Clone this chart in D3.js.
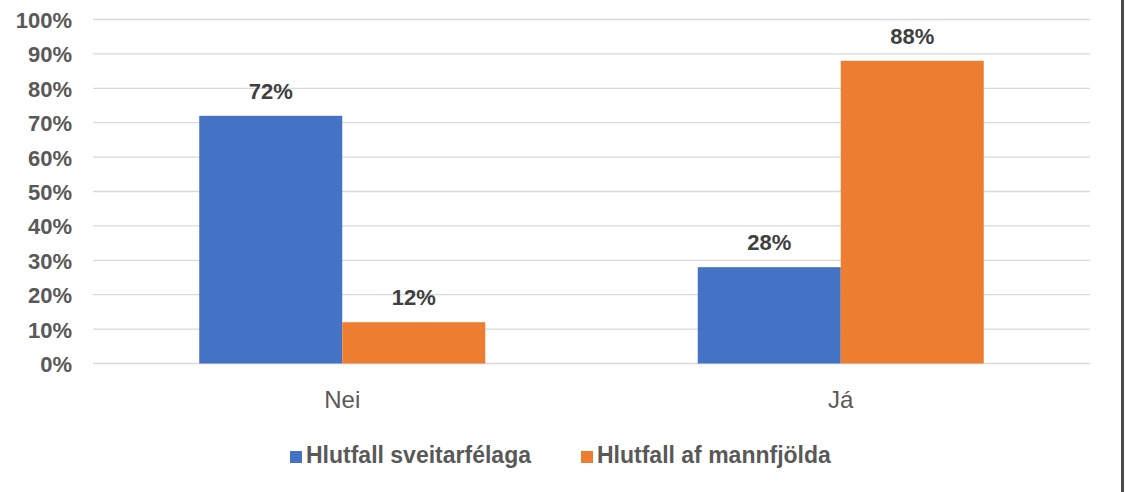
<!DOCTYPE html>
<html>
<head>
<meta charset="utf-8">
<script src="https://cdn.jsdelivr.net/npm/d3@7"></script>
<style>
  body { margin: 0; background: #fff; }
  svg { display: block; font-family: "Liberation Sans", Arial, sans-serif; }
</style>
</head>
<body>
<div id="chart"></div>
<script>
// data
var categories = ["Nei", "Já"];
var seriesNames = ["Hlutfall sveitarfélaga", "Hlutfall af mannfjölda"];
var sveitarfelaga = [0.72, 0.28];
var mannfjolda = [0.12, 0.88];
var yTicks = [0, 0.1, 0.2, 0.3, 0.4, 0.5, 0.6, 0.7, 0.8, 0.9, 1.0];
var colors = ["#4472C4", "#ED7D31"];

var width = 1125, height = 492;
var plotLeft = 93, plotRight = 1090, plotTop = 19.5, plotBottom = 363.5;

var svg = d3.select("#chart").append("svg")
    .attr("width", width)
    .attr("height", height);

var x0 = d3.scaleBand().domain(categories).range([plotLeft, plotRight]);
var gap = (x0.bandwidth() - 286) / 2;
var x1 = d3.scaleBand().domain(seriesNames).range([gap, x0.bandwidth() - gap]);
var y = d3.scaleLinear().domain([0, 1]).range([plotBottom, plotTop]);

// grid lines
svg.append("g").selectAll("line")
    .data(yTicks)
    .enter().append("line")
    .attr("x1", plotLeft).attr("x2", plotRight)
    .attr("y1", function(d) { return y(d); })
    .attr("y2", function(d) { return y(d); })
    .attr("stroke", "#d9d9d9")
    .attr("stroke-width", 1.3);

// y axis labels
var yAxis = d3.axisLeft(y).tickValues(yTicks).tickFormat(d3.format(".0%")).tickSize(0).tickPadding(0);
var yg = svg.append("g").attr("transform", "translate(72,0)").call(yAxis);
yg.select(".domain").remove();
yg.selectAll("text")
    .attr("fill", "#595959")
    .style("font-size", "22px")
    .style("font-weight", "bold")
    .attr("dy", "0.36em");

// x axis labels
var xAxis = d3.axisBottom(x0).tickSize(0).tickPadding(0);
var xg = svg.append("g").attr("transform", "translate(0," + plotBottom + ")").call(xAxis);
xg.select(".domain").remove();
xg.selectAll("text")
    .attr("fill", "#595959")
    .attr("y", 44)
    .attr("dy", 0)
    .style("font-size", "24px");

var rows = categories.map(function(c, i) {
    return { cat: c, values: [sveitarfelaga[i], mannfjolda[i]] };
});

var groups = svg.append("g").selectAll("g")
    .data(rows)
    .enter().append("g")
    .attr("transform", function(d) { return "translate(" + x0(d.cat) + ",0)"; });

groups.selectAll("rect")
    .data(function(d) { return d.values.map(function(v, j) { return { s: seriesNames[j], v: v, j: j }; }); })
    .enter().append("rect")
    .attr("x", function(d) { return x1(d.s); })
    .attr("width", x1.bandwidth())
    .attr("y", function(d) { return y(d.v); })
    .attr("height", function(d) { return y(0) - y(d.v); })
    .attr("fill", function(d) { return colors[d.j]; });

groups.selectAll("text.val")
    .data(function(d) { return d.values.map(function(v, j) { return { s: seriesNames[j], v: v }; }); })
    .enter().append("text")
    .attr("class", "val")
    .attr("x", function(d) { return x1(d.s) + x1.bandwidth() / 2; })
    .attr("y", function(d) { return y(d.v) - 17; })
    .attr("text-anchor", "middle")
    .attr("fill", "#404040")
    .style("font-size", "22px")
    .style("font-weight", "bold")
    .text(function(d) { return d3.format(".0%")(d.v); });

// legend
var legendX = [290, 581];
var leg = svg.append("g").selectAll("g")
    .data(seriesNames)
    .enter().append("g")
    .attr("transform", function(d, i) { return "translate(" + legendX[i] + ",451)"; });
leg.append("rect")
    .attr("width", 12).attr("height", 12)
    .attr("fill", function(d, i) { return colors[i]; });
leg.append("text")
    .attr("x", 16).attr("y", 12)
    .attr("fill", "#595959")
    .style("font-size", "23px")
    .style("font-weight", "bold")
    .text(function(d) { return d; });

// right frame edge
svg.append("line")
    .attr("x1", 1122.5).attr("x2", 1122.5)
    .attr("y1", 0).attr("y2", height)
    .attr("stroke", "#4a4a4a")
    .attr("stroke-width", 3);
</script>
</body>
</html>
